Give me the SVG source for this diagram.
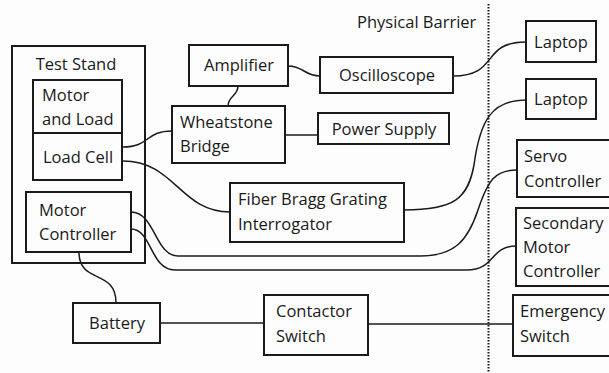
<svg xmlns="http://www.w3.org/2000/svg" width="609" height="373" viewBox="0 0 609 373">
  <style>
    .box { fill: none; stroke: #1a1a1a; stroke-width: 2; }
    .wire { fill: none; stroke: #1a1a1a; stroke-width: 1.5; }
    .barrier { fill: none; stroke: #1a1a1a; stroke-width: 2; stroke-dasharray: 1.5 1.5; }
    text { font-family: "Open Sans", "Noto Sans", "Liberation Sans", sans-serif; font-size: 16.5px; fill: #1a1a1a; }
    .c { text-anchor: middle; }
  </style>
  <rect width="609" height="373" fill="#fdfdfd"/>

  <!-- barrier between test area and operator side -->
  <g id="barrier">
    <line class="barrier" x1="488.5" y1="4" x2="488.5" y2="373"/>
    <text x="357" y="28">Physical Barrier</text>
  </g>

  <g id="connectors">
    <path class="wire" d="M288,66 C304,66 304,76 320,76"/>
    <path class="wire" d="M238,86 C238,96 228,96 228,106"/>
    <path class="wire" d="M285,135 H318"/>
    <path class="wire" d="M123,147 C150,147 145,131 172,131"/>
    <path class="wire" d="M123,161 C175,161 180,212 230,212"/>
    <path class="wire" d="M453,76 C500,76 480,42 526,42"/>
    <path class="wire" d="M404,210 C455,210 468,198 474,165 C480,120 492,100 526,100"/>
    <path class="wire" d="M131,212 C155,212 155,256 178,256 H420 C455,256 468,240 478,210 C488,180 495,170 517,170"/>
    <path class="wire" d="M131,229 C152,229 150,270 175,270 H467 C495,270 490,246 516,246"/>
    <path class="wire" d="M79,252 C79,285 116,268 116,303"/>
    <path class="wire" d="M160,323 H264"/>
    <path class="wire" d="M368,324 H513"/>
  </g>

  <g id="test-stand">
    <rect class="box" x="12" y="46" width="133" height="217"/>
    <text class="c" x="76" y="70">Test Stand</text>
  </g>
  <g id="motor-and-load">
    <rect class="box" x="33" y="80" width="89" height="53"/>
    <text x="42" y="101">Motor</text>
    <text x="42" y="125">and Load</text>
  </g>
  <g id="load-cell">
    <rect class="box" x="33" y="133" width="89" height="47"/>
    <text x="43" y="163">Load Cell</text>
  </g>
  <g id="motor-controller">
    <rect class="box" x="26" y="192" width="105" height="60"/>
    <text x="39" y="216">Motor</text>
    <text x="39" y="240">Controller</text>
  </g>
  <g id="amplifier">
    <rect class="box" x="189" y="45" width="99" height="41"/>
    <text class="c" x="239" y="71">Amplifier</text>
  </g>
  <g id="wheatstone-bridge">
    <rect class="box" x="172" y="106" width="113" height="57"/>
    <text x="180" y="128">Wheatstone</text>
    <text x="180" y="152">Bridge</text>
  </g>
  <g id="oscilloscope">
    <rect class="box" x="320" y="57" width="133" height="36"/>
    <text class="c" x="387" y="81">Oscilloscope</text>
  </g>
  <g id="power-supply">
    <rect class="box" x="318" y="113" width="131" height="31"/>
    <text class="c" x="384" y="135">Power Supply</text>
  </g>
  <g id="fbg-interrogator">
    <rect class="box" x="230" y="183" width="174" height="59"/>
    <text x="238" y="205">Fiber Bragg Grating</text>
    <text x="238" y="230">Interrogator</text>
  </g>
  <g id="battery">
    <rect class="box" x="73" y="303" width="87" height="40"/>
    <text class="c" x="117" y="329">Battery</text>
  </g>
  <g id="contactor-switch">
    <rect class="box" x="264" y="295" width="104" height="60"/>
    <text x="276" y="317">Contactor</text>
    <text x="276" y="342">Switch</text>
  </g>
  <g id="laptop-1">
    <rect class="box" x="526" y="21" width="70" height="41"/>
    <text class="c" x="561" y="48">Laptop</text>
  </g>
  <g id="laptop-2">
    <rect class="box" x="526" y="79" width="70" height="40"/>
    <text class="c" x="561" y="105">Laptop</text>
  </g>
  <g id="servo-controller">
    <rect class="box" x="517" y="140" width="100" height="57"/>
    <text x="524" y="162">Servo</text>
    <text x="524" y="187">Controller</text>
  </g>
  <g id="secondary-motor-controller">
    <rect class="box" x="516" y="208" width="100" height="78"/>
    <text x="523" y="229">Secondary</text>
    <text x="523" y="253">Motor</text>
    <text x="523" y="277">Controller</text>
  </g>
  <g id="emergency-switch">
    <rect class="box" x="513" y="295" width="100" height="61"/>
    <text x="520" y="317">Emergency</text>
    <text x="520" y="342">Switch</text>
  </g>
</svg>
